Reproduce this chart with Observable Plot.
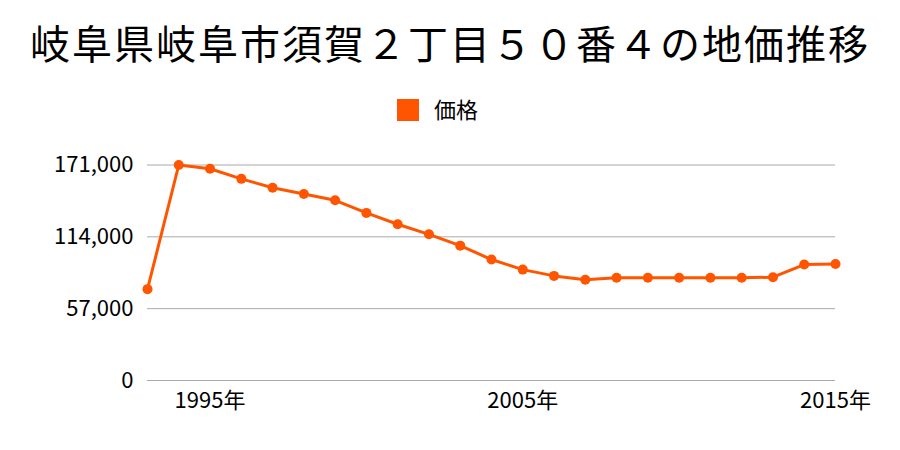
<!DOCTYPE html>
<html>
<head>
<meta charset="utf-8">
<script src="https://cdn.jsdelivr.net/npm/d3@7"></script>
<script src="https://cdn.jsdelivr.net/npm/@observablehq/plot@0.6"></script>
<style>
  html, body { margin: 0; padding: 0; background: #fff; }
  #wrap { position: relative; width: 900px; height: 450px; font-family: "Noto Sans CJK JP", sans-serif; color: #000; }
  #title { position: absolute; left: 0; top: 15px; width: 900px; text-align: center; font-size: 40px; letter-spacing: 2px; line-height: 54px; white-space: nowrap; }
  #legend { position: absolute; left: 397px; top: 94px; font-size: 22px; line-height: 28px; white-space: nowrap; }
  #legend .sw { display: inline-block; width: 22px; height: 22px; background: #ff5500; vertical-align: -3px; margin-right: 15px; }
  #chart { position: absolute; left: 0; top: 130px; }
</style>
</head>
<body>
<div id="wrap">
  <div id="title">岐阜県岐阜市須賀２丁目５０番４の地価推移</div>
  <div id="legend"><span class="sw"></span>価格</div>
  <div id="chart"></div>
</div>
<script>
const years = [1993, 1994, 1995, 1996, 1997, 1998, 1999, 2000, 2001, 2002, 2003, 2004, 2005, 2006, 2007, 2008, 2009, 2010, 2011, 2012, 2013, 2014, 2015];
const prices = [72500, 171000, 168000, 160000, 153000, 148000, 143000, 133000, 124000, 116000, 107000, 96000, 88000, 83000, 80000, 81500, 81500, 81500, 81500, 81500, 82000, 92000, 92500];
const xTicks = [1995, 2005, 2015];
const yTicks = [0, 57000, 114000, 171000];
const seriesName = "価格";
const color = "#ff5500";

const data = years.map((y, i) => ({ year: y, price: prices[i], series: seriesName }));

const plot = Plot.plot({
  width: 900,
  height: 320,
  marginLeft: 147,
  marginRight: 65,
  marginTop: 34.5,
  marginBottom: 70,
  style: { fontFamily: '"Noto Sans CJK JP", sans-serif', fontSize: "22px", color: "#000", background: "transparent", overflow: "visible" },
  x: { domain: [1993, 2015], ticks: xTicks, tickFormat: d => d + "年", tickSize: 0, tickPadding: 12, label: null },
  y: { domain: [0, 171000], ticks: yTicks, tickFormat: d3.format(","), tickSize: 0, tickPadding: 14, label: null },
  marks: [
    Plot.ruleY(yTicks, { stroke: "#aaaaaa", strokeWidth: 1 }),
    Plot.line(data, { x: "year", y: "price", stroke: color, strokeWidth: 3 }),
    Plot.dot(data, { x: "year", y: "price", r: 5, fill: color, stroke: "none" })
  ]
});
document.getElementById("chart").appendChild(plot);
</script>
</body>
</html>
